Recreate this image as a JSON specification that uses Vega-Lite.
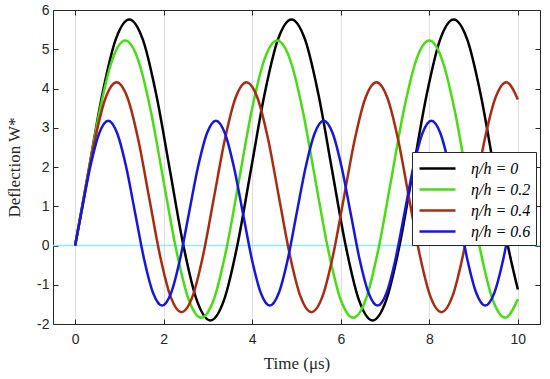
{
"$schema":"https://vega.github.io/schema/vega-lite/v6.json",
"width":487,"height":314,
"autosize":{"type":"none"},
"padding":{"left":53,"top":10,"right":10,"bottom":55},
"background":"white",
"config":{"view":{"stroke":null},
 "axis":{"labelFont":"Liberation Sans","labelFontSize":14,"labelColor":"#262626","domainColor":"#262626","tickColor":"#262626","tickSize":-5,"tickWidth":1,"gridColor":"#dedede","titleFont":"Liberation Serif","titleFontSize":17,"titleFontWeight":"normal","titleColor":"#262626","labelExpr":"''+datum.value"},
 "legend":{"labelFont":"Liberation Serif","labelFontSize":16,"labelFontStyle":"italic"}},
"datasets":{
"zero":[{"w":0}],
"curves":[
{"s":"η/h = 0","t":0,"w":0},{"s":"η/h = 0","t":0.307,"w":1.93},{"s":"η/h = 0","t":0.612,"w":3.84},{"s":"η/h = 0","t":0.917,"w":5.25},{"s":"η/h = 0","t":1.223,"w":5.76},{"s":"η/h = 0","t":1.528,"w":5.25},{"s":"η/h = 0","t":1.833,"w":3.84},{"s":"η/h = 0","t":2.139,"w":1.93},{"s":"η/h = 0","t":2.444,"w":0.01},{"s":"η/h = 0","t":2.749,"w":-1.4},{"s":"η/h = 0","t":3.055,"w":-1.91},{"s":"η/h = 0","t":3.36,"w":-1.4},{"s":"η/h = 0","t":3.665,"w":0.01},{"s":"η/h = 0","t":3.971,"w":1.93},{"s":"η/h = 0","t":4.276,"w":3.84},{"s":"η/h = 0","t":4.581,"w":5.25},{"s":"η/h = 0","t":4.886,"w":5.76},{"s":"η/h = 0","t":5.192,"w":5.25},{"s":"η/h = 0","t":5.497,"w":3.84},{"s":"η/h = 0","t":5.802,"w":1.93},{"s":"η/h = 0","t":6.108,"w":0.01},{"s":"η/h = 0","t":6.413,"w":-1.4},{"s":"η/h = 0","t":6.718,"w":-1.91},{"s":"η/h = 0","t":7.024,"w":-1.4},{"s":"η/h = 0","t":7.329,"w":0.01},{"s":"η/h = 0","t":7.634,"w":1.93},{"s":"η/h = 0","t":7.94,"w":3.84},{"s":"η/h = 0","t":8.245,"w":5.25},{"s":"η/h = 0","t":8.55,"w":5.76},{"s":"η/h = 0","t":8.856,"w":5.25},{"s":"η/h = 0","t":9.161,"w":3.84},{"s":"η/h = 0","t":9.466,"w":1.93},{"s":"η/h = 0","t":9.771,"w":0.01},{"s":"η/h = 0","t":10,"w":-1.12},
{"s":"η/h = 0.2","t":0,"w":0},{"s":"η/h = 0.2","t":0.273,"w":1.69},{"s":"η/h = 0.2","t":0.559,"w":3.46},{"s":"η/h = 0.2","t":0.845,"w":4.75},{"s":"η/h = 0.2","t":1.131,"w":5.22},{"s":"η/h = 0.2","t":1.417,"w":4.75},{"s":"η/h = 0.2","t":1.703,"w":3.46},{"s":"η/h = 0.2","t":1.99,"w":1.69},{"s":"η/h = 0.2","t":2.276,"w":-0.07},{"s":"η/h = 0.2","t":2.562,"w":-1.37},{"s":"η/h = 0.2","t":2.848,"w":-1.84},{"s":"η/h = 0.2","t":3.134,"w":-1.37},{"s":"η/h = 0.2","t":3.42,"w":-0.07},{"s":"η/h = 0.2","t":3.706,"w":1.69},{"s":"η/h = 0.2","t":3.992,"w":3.46},{"s":"η/h = 0.2","t":4.278,"w":4.75},{"s":"η/h = 0.2","t":4.565,"w":5.22},{"s":"η/h = 0.2","t":4.851,"w":4.75},{"s":"η/h = 0.2","t":5.137,"w":3.46},{"s":"η/h = 0.2","t":5.423,"w":1.69},{"s":"η/h = 0.2","t":5.709,"w":-0.07},{"s":"η/h = 0.2","t":5.995,"w":-1.37},{"s":"η/h = 0.2","t":6.281,"w":-1.84},{"s":"η/h = 0.2","t":6.567,"w":-1.37},{"s":"η/h = 0.2","t":6.854,"w":-0.07},{"s":"η/h = 0.2","t":7.14,"w":1.69},{"s":"η/h = 0.2","t":7.426,"w":3.46},{"s":"η/h = 0.2","t":7.712,"w":4.75},{"s":"η/h = 0.2","t":7.998,"w":5.22},{"s":"η/h = 0.2","t":8.284,"w":4.75},{"s":"η/h = 0.2","t":8.57,"w":3.46},{"s":"η/h = 0.2","t":8.856,"w":1.69},{"s":"η/h = 0.2","t":9.142,"w":-0.07},{"s":"η/h = 0.2","t":9.429,"w":-1.37},{"s":"η/h = 0.2","t":9.715,"w":-1.84},{"s":"η/h = 0.2","t":10,"w":-1.37},
{"s":"η/h = 0.4","t":0,"w":0},{"s":"η/h = 0.4","t":0.202,"w":1.23},{"s":"η/h = 0.4","t":0.447,"w":2.7},{"s":"η/h = 0.4","t":0.691,"w":3.77},{"s":"η/h = 0.4","t":0.936,"w":4.16},{"s":"η/h = 0.4","t":1.181,"w":3.77},{"s":"η/h = 0.4","t":1.425,"w":2.7},{"s":"η/h = 0.4","t":1.67,"w":1.23},{"s":"η/h = 0.4","t":1.914,"w":-0.24},{"s":"η/h = 0.4","t":2.159,"w":-1.31},{"s":"η/h = 0.4","t":2.403,"w":-1.7},{"s":"η/h = 0.4","t":2.648,"w":-1.31},{"s":"η/h = 0.4","t":2.892,"w":-0.24},{"s":"η/h = 0.4","t":3.137,"w":1.23},{"s":"η/h = 0.4","t":3.382,"w":2.7},{"s":"η/h = 0.4","t":3.626,"w":3.77},{"s":"η/h = 0.4","t":3.871,"w":4.16},{"s":"η/h = 0.4","t":4.115,"w":3.77},{"s":"η/h = 0.4","t":4.36,"w":2.7},{"s":"η/h = 0.4","t":4.604,"w":1.23},{"s":"η/h = 0.4","t":4.849,"w":-0.24},{"s":"η/h = 0.4","t":5.094,"w":-1.31},{"s":"η/h = 0.4","t":5.338,"w":-1.7},{"s":"η/h = 0.4","t":5.583,"w":-1.31},{"s":"η/h = 0.4","t":5.827,"w":-0.24},{"s":"η/h = 0.4","t":6.072,"w":1.23},{"s":"η/h = 0.4","t":6.316,"w":2.7},{"s":"η/h = 0.4","t":6.561,"w":3.77},{"s":"η/h = 0.4","t":6.805,"w":4.16},{"s":"η/h = 0.4","t":7.05,"w":3.77},{"s":"η/h = 0.4","t":7.295,"w":2.7},{"s":"η/h = 0.4","t":7.539,"w":1.23},{"s":"η/h = 0.4","t":7.784,"w":-0.24},{"s":"η/h = 0.4","t":8.028,"w":-1.31},{"s":"η/h = 0.4","t":8.273,"w":-1.7},{"s":"η/h = 0.4","t":8.517,"w":-1.31},{"s":"η/h = 0.4","t":8.762,"w":-0.24},{"s":"η/h = 0.4","t":9.006,"w":1.23},{"s":"η/h = 0.4","t":9.251,"w":2.7},{"s":"η/h = 0.4","t":9.496,"w":3.77},{"s":"η/h = 0.4","t":9.74,"w":4.16},{"s":"η/h = 0.4","t":10,"w":3.72},
{"s":"η/h = 0.6","t":0,"w":0},{"s":"η/h = 0.6","t":0.139,"w":0.83},{"s":"η/h = 0.6","t":0.341,"w":2.0},{"s":"η/h = 0.6","t":0.544,"w":2.86},{"s":"η/h = 0.6","t":0.747,"w":3.18},{"s":"η/h = 0.6","t":0.95,"w":2.86},{"s":"η/h = 0.6","t":1.153,"w":2.0},{"s":"η/h = 0.6","t":1.355,"w":0.83},{"s":"η/h = 0.6","t":1.558,"w":-0.35},{"s":"η/h = 0.6","t":1.761,"w":-1.21},{"s":"η/h = 0.6","t":1.964,"w":-1.53},{"s":"η/h = 0.6","t":2.167,"w":-1.21},{"s":"η/h = 0.6","t":2.369,"w":-0.35},{"s":"η/h = 0.6","t":2.572,"w":0.83},{"s":"η/h = 0.6","t":2.775,"w":2.0},{"s":"η/h = 0.6","t":2.978,"w":2.86},{"s":"η/h = 0.6","t":3.18,"w":3.18},{"s":"η/h = 0.6","t":3.383,"w":2.86},{"s":"η/h = 0.6","t":3.586,"w":2.0},{"s":"η/h = 0.6","t":3.789,"w":0.83},{"s":"η/h = 0.6","t":3.992,"w":-0.35},{"s":"η/h = 0.6","t":4.194,"w":-1.21},{"s":"η/h = 0.6","t":4.397,"w":-1.53},{"s":"η/h = 0.6","t":4.6,"w":-1.21},{"s":"η/h = 0.6","t":4.803,"w":-0.35},{"s":"η/h = 0.6","t":5.005,"w":0.83},{"s":"η/h = 0.6","t":5.208,"w":2.0},{"s":"η/h = 0.6","t":5.411,"w":2.86},{"s":"η/h = 0.6","t":5.614,"w":3.18},{"s":"η/h = 0.6","t":5.817,"w":2.86},{"s":"η/h = 0.6","t":6.019,"w":2.0},{"s":"η/h = 0.6","t":6.222,"w":0.83},{"s":"η/h = 0.6","t":6.425,"w":-0.35},{"s":"η/h = 0.6","t":6.628,"w":-1.21},{"s":"η/h = 0.6","t":6.831,"w":-1.53},{"s":"η/h = 0.6","t":7.033,"w":-1.21},{"s":"η/h = 0.6","t":7.236,"w":-0.35},{"s":"η/h = 0.6","t":7.439,"w":0.83},{"s":"η/h = 0.6","t":7.642,"w":2.0},{"s":"η/h = 0.6","t":7.845,"w":2.86},{"s":"η/h = 0.6","t":8.047,"w":3.18},{"s":"η/h = 0.6","t":8.25,"w":2.86},{"s":"η/h = 0.6","t":8.453,"w":2.0},{"s":"η/h = 0.6","t":8.656,"w":0.83},{"s":"η/h = 0.6","t":8.858,"w":-0.35},{"s":"η/h = 0.6","t":9.061,"w":-1.21},{"s":"η/h = 0.6","t":9.264,"w":-1.53},{"s":"η/h = 0.6","t":9.467,"w":-1.21},{"s":"η/h = 0.6","t":9.67,"w":-0.35},{"s":"η/h = 0.6","t":9.872,"w":0.83},{"s":"η/h = 0.6","t":10,"w":1.59}
]},
"layer":[
 {"data":{"name":"zero"},"mark":{"type":"rule","color":"#8ee9fb","strokeWidth":1.5},
  "encoding":{"y":{"field":"w","type":"quantitative","scale":{"domain":[-2,6],"nice":false,"zero":false},"axis":null}}},
 {"data":{"name":"curves"},"mark":{"type":"line","strokeWidth":2.5,"interpolate":"monotone"},
  "encoding":{
   "x":{"field":"t","type":"quantitative","scale":{"domain":[-0.5,10.5],"nice":false,"zero":false},
        "axis":{"values":[0,2,4,6,8,10],"title":"Time (μs)","labelPadding":13,"titlePadding":9,"labelFlush":false}},
   "y":{"field":"w","type":"quantitative","scale":{"domain":[-2,6],"nice":false,"zero":false},
        "axis":{"values":[-2,-1,0,1,2,3,4,5,6],"title":"Deflection W*","labelPadding":9,"titlePadding":13,"labelFlush":false}},
   "color":{"field":"s","type":"nominal","scale":{"domain":["η/h = 0","η/h = 0.2","η/h = 0.4","η/h = 0.6"],"range":["#000000","#48dc12","#a82c12","#1616dc"]},
     "legend":{"title":null,"orient":"none","legendX":359,"legendY":142,"symbolType":"M-1.8,0H1.8","symbolSize":400,"symbolOffset":9,"symbolStrokeWidth":2.5,"labelFont":"Liberation Serif","labelFontSize":16,"labelFontStyle":"italic","labelColor":"#000000","strokeColor":"#262626","fillColor":"white","padding":5,"rowPadding":1,"labelOffset":22,"cornerRadius":0}}}},
 {"data":{"name":"curves"},"mark":{"type":"point","opacity":0},
  "encoding":{
   "x":{"field":"t","type":"quantitative","axis":{"orient":"top","values":[0,2,4,6,8,10],"labels":false,"title":null,"grid":false}},
   "y":{"field":"w","type":"quantitative","axis":{"orient":"right","values":[-2,-1,0,1,2,3,4,5,6],"labels":false,"title":null,"grid":false}}}}
],
"resolve":{"axis":{"x":"independent","y":"independent"}}
}
